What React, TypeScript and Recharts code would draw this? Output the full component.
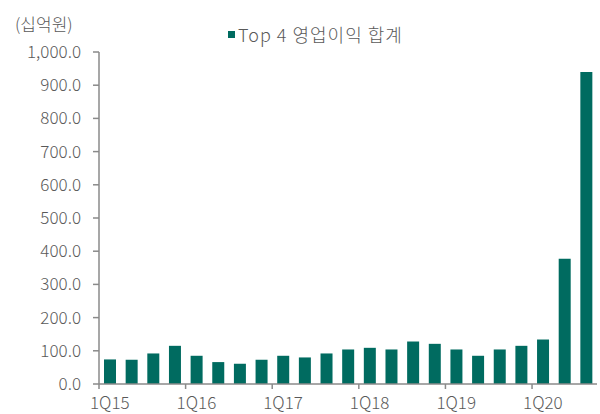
import React from "react";
import { BarChart, Bar, XAxis, YAxis } from "recharts";

const quarters = [
  "1Q15", "2Q15", "3Q15", "4Q15",
  "1Q16", "2Q16", "3Q16", "4Q16",
  "1Q17", "2Q17", "3Q17", "4Q17",
  "1Q18", "2Q18", "3Q18", "4Q18",
  "1Q19", "2Q19", "3Q19", "4Q19",
  "1Q20", "2Q20", "3Q20",
];

// Top 4 영업이익 합계 (십억원)
const profit = [
  74, 73, 92, 115,
  85, 66, 61, 73,
  85, 80, 92, 104,
  109, 104, 128, 121,
  104, 85, 104, 115,
  134, 377, 940,
];

const yTicks = [0, 100, 200, 300, 400, 500, 600, 700, 800, 900, 1000];

const seriesName = "Top 4 영업이익 합계";

const data = quarters.map((q, i) => ({ q, value: profit[i] }));

const GREEN = "#006b60";
const AXIS = "#8a8a8a";
const TEXT = "#595959";
const FONT = "'Noto Sans CJK KR', 'Noto Sans', sans-serif";

const CHART_W = 600;
const CHART_H = 414;
const Y_W = 99;
const RIGHT = 3;
const halfBand = (CHART_W - Y_W - RIGHT) / quarters.length / 2;

// label only the first quarter of each year; the tick mark sits on the band's left edge
const QuarterTick = (props: any) => {
  const { x, y, payload } = props;
  const label: string = payload.value;
  if (!label.startsWith("1Q")) return null;
  const off = payload.offset || halfBand;
  return (
    <g>
      <line x1={x - off} x2={x - off} y1={y} y2={y + 5} stroke={AXIS} strokeWidth={1.5} />
      <text x={x} y={y + 25} textAnchor="middle" fill={TEXT} fontSize={17} fontWeight={300} fontFamily={FONT}>
        {label}
      </text>
    </g>
  );
};

export default function App() {
  return (
    <div style={{ position: "absolute", left: 0, top: 0, width: CHART_W, height: CHART_H, background: "#fff" }}>
      <div
        style={{
          position: "absolute",
          left: 15,
          top: 11,
          fontFamily: FONT,
          fontSize: 17,
          fontWeight: 300,
          color: TEXT,
        }}
      >
        (십억원)
      </div>
      <div
        style={{
          position: "absolute",
          left: 228,
          top: 21,
          display: "flex",
          alignItems: "center",
          fontFamily: FONT,
          fontSize: 18,
          fontWeight: 300,
          letterSpacing: 1,
          color: TEXT,
        }}
      >
        <span style={{ width: 7, height: 7, background: GREEN, marginRight: 3, display: "inline-block" }} />
        <span>{seriesName}</span>
      </div>
      <BarChart
        width={CHART_W}
        height={CHART_H}
        data={data}
        margin={{ top: 52, right: RIGHT, left: 0, bottom: 0 }}
      >
        <XAxis
          dataKey="q"
          interval={0}
          height={30}
          tick={<QuarterTick />}
          tickLine={false}
          tickSize={0}
          tickMargin={0}
          axisLine={{ stroke: AXIS, strokeWidth: 1.5 }}
        />
        <YAxis
          width={Y_W}
          domain={[0, 1000]}
          ticks={yTicks}
          interval={0}
          tickFormatter={(v: number) => v.toLocaleString("en-US", { minimumFractionDigits: 1, maximumFractionDigits: 1 })}
          tick={{ fill: TEXT, fontSize: 17, fontWeight: 300, fontFamily: FONT }}
          tickSize={6}
          tickMargin={12}
          tickLine={{ stroke: AXIS, strokeWidth: 1.5 }}
          axisLine={{ stroke: AXIS, strokeWidth: 1.5 }}
        />
        <Bar dataKey="value" name={seriesName} fill={GREEN} barSize={12} isAnimationActive={false} />
      </BarChart>
    </div>
  );
}
